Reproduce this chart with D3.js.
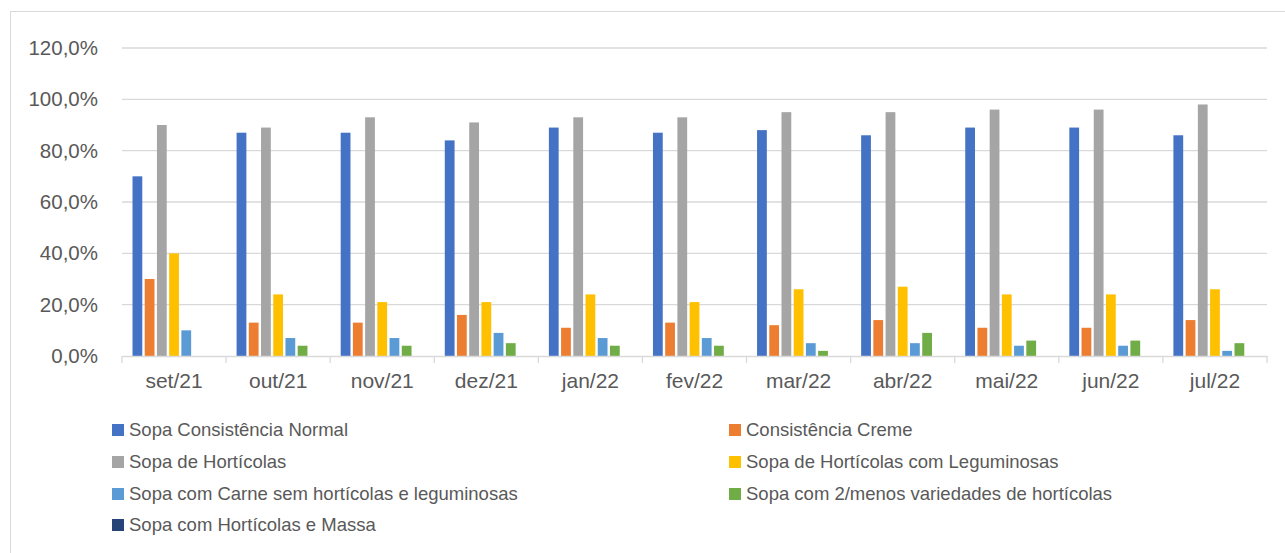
<!DOCTYPE html>
<html>
<head>
<meta charset="utf-8">
<script src="https://cdn.jsdelivr.net/npm/d3@7"></script>
<style>
  body { margin: 0; background: #fff; }
  text { font-family: "Liberation Sans", Arial, sans-serif; fill: #595959; }
</style>
</head>
<body>
<svg id="chart"></svg>
<script>
const months = ["set/21","out/21","nov/21","dez/21","jan/22","fev/22","mar/22","abr/22","mai/22","jun/22","jul/22"];
const seriesNames = [
  "Sopa Consistência Normal",
  "Consistência Creme",
  "Sopa de Hortícolas",
  "Sopa de Hortícolas com Leguminosas",
  "Sopa com Carne sem hortícolas e leguminosas",
  "Sopa com 2/menos variedades de hortícolas",
  "Sopa com Hortícolas e Massa"
];
const normal      = [70, 87, 87, 84, 89, 87, 88, 86, 89, 89, 86];
const creme       = [30, 13, 13, 16, 11, 13, 12, 14, 11, 11, 14];
const horticolas  = [90, 89, 93, 91, 93, 93, 95, 95, 96, 96, 98];
const leguminosas = [40, 24, 21, 21, 24, 21, 26, 27, 24, 24, 26];
const carne       = [10, 7, 7, 9, 7, 7, 5, 5, 4, 4, 2];
const variedades  = [0, 4, 4, 5, 4, 4, 2, 9, 6, 6, 5];
const massa       = [0, 0, 0, 0, 0, 0, 0, 0, 0, 0, 0];
const yTicks = [0, 20, 40, 60, 80, 100, 120];

const allSeries = [normal, creme, horticolas, leguminosas, carne, variedades, massa];
const colors = ["#4472C4","#ED7D31","#A5A5A5","#FFC000","#5B9BD5","#70AD47","#264478"];

const containerWidth = 1285;
const containerHeight = 553;
const margin = {top: 48, left: 122, right: 18};
const plotBottom = 356;

const svg = d3.select("#chart")
  .attr("width", containerWidth)
  .attr("height", containerHeight);

// outer chart border
svg.append("rect")
  .attr("x", 10.5).attr("y", 11.5)
  .attr("width", containerWidth).attr("height", containerHeight)
  .attr("fill", "none").attr("stroke", "#d9d9d9");

const x0 = d3.scaleBand()
  .domain(months)
  .range([margin.left, containerWidth - margin.right]);

const x1 = d3.scaleBand()
  .domain(d3.range(seriesNames.length))
  .range([0, x0.bandwidth()])
  .paddingInner(0.2)
  .paddingOuter(0.86);

const y = d3.scaleLinear()
  .domain([0, 120])
  .range([plotBottom, margin.top]);

// gridlines
svg.append("g")
  .selectAll("line")
  .data(yTicks.slice(1))
  .join("line")
  .attr("x1", margin.left).attr("x2", containerWidth - margin.right)
  .attr("y1", d => y(d)).attr("y2", d => y(d))
  .attr("stroke", "#d9d9d9").attr("stroke-width", 1.3);

// y axis labels
const yAxis = svg.append("g")
  .attr("transform", `translate(${margin.left},0)`)
  .call(d3.axisLeft(y).tickValues(yTicks).tickSize(0).tickPadding(24)
        .tickFormat(d => d.toFixed(1).replace(".", ",") + "%"));
yAxis.select(".domain").remove();
yAxis.selectAll("text").style("font-size", "20.5px").attr("fill", "#595959");

// bars
const groups = svg.append("g")
  .selectAll("g")
  .data(months)
  .join("g")
  .attr("transform", d => `translate(${x0(d)},0)`);

groups.selectAll("rect")
  .data((m, i) => allSeries.map((s, k) => ({k, v: s[i]})))
  .join("rect")
  .attr("x", d => x1(d.k))
  .attr("width", x1.bandwidth())
  .attr("y", d => y(d.v))
  .attr("height", d => plotBottom - y(d.v))
  .attr("fill", d => colors[d.k]);

// x axis
const xAxis = svg.append("g")
  .attr("transform", `translate(0,${plotBottom})`)
  .call(d3.axisBottom(x0).tickSize(0).tickPadding(17));
xAxis.select(".domain").attr("stroke", "#d9d9d9").attr("stroke-width", 1.3);
xAxis.selectAll("text").style("font-size", "21px").attr("fill", "#595959");

// category separator ticks
svg.append("g")
  .selectAll("line")
  .data(months.map(m => x0(m)).concat([x0.range()[1]]))
  .join("line")
  .attr("x1", d => d).attr("x2", d => d)
  .attr("y1", plotBottom).attr("y2", plotBottom + 7)
  .attr("stroke", "#d9d9d9").attr("stroke-width", 1.3);

// legend
const legendCols = [112, 729];
const legendRows = [430, 462, 494, 525];
const legend = svg.append("g")
  .selectAll("g")
  .data(seriesNames)
  .join("g")
  .attr("transform", (d, i) => `translate(${legendCols[i % 2]},${legendRows[Math.floor(i / 2)]})`);

legend.append("rect")
  .attr("x", 0).attr("y", -6)
  .attr("width", 12).attr("height", 12)
  .attr("fill", (d, i) => colors[i]);

legend.append("text")
  .attr("x", 17).attr("y", 0)
  .attr("dy", "0.35em")
  .style("font-size", "18.5px")
  .text(d => d);
</script>
</body>
</html>
